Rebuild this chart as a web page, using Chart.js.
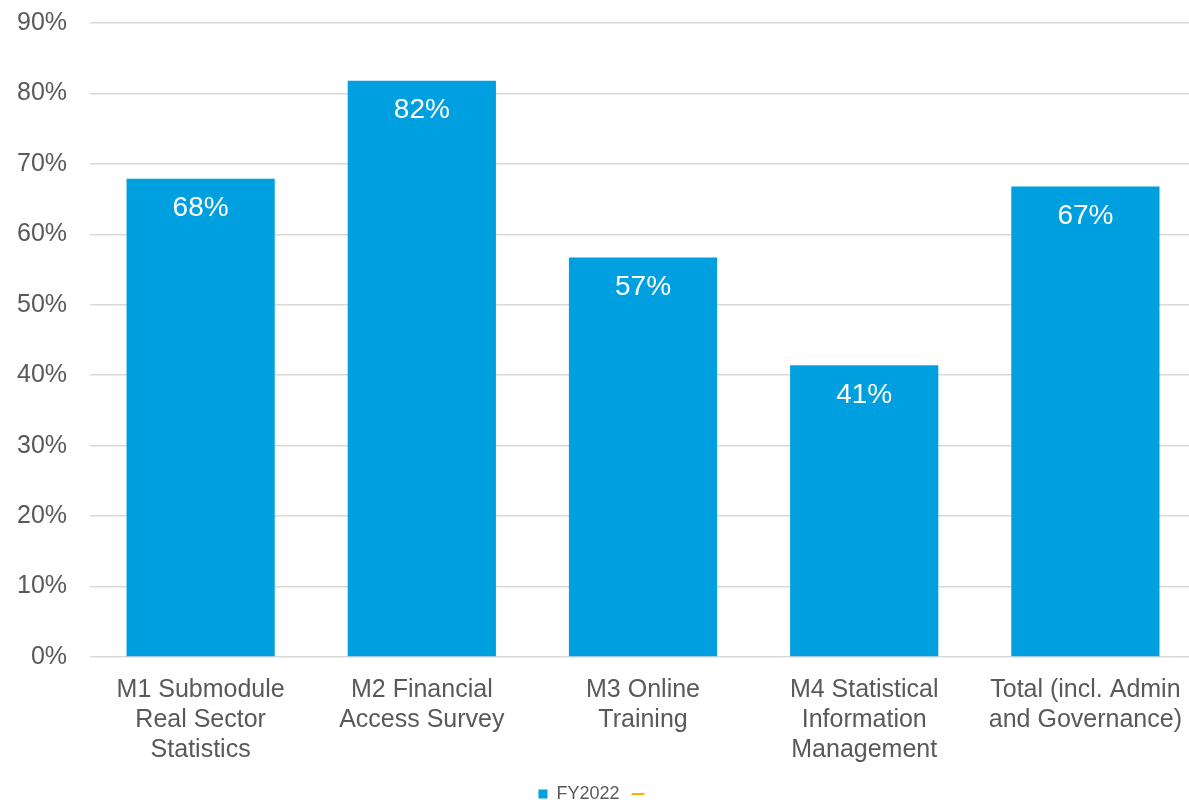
<!DOCTYPE html>
<html>
<head>
<meta charset="utf-8">
<script src="https://cdn.jsdelivr.net/npm/chart.js@4"></script>
<style>
html,body{margin:0;padding:0;background:#fff;overflow:hidden;width:1189px;height:802px;}
#wrap{width:1202px;height:828px;position:absolute;left:-6px;top:-15px;}
</style>
</head>
<body>
<div id="wrap"><canvas id="c"></canvas></div>
<script>
const categories = [
  ["M1 Submodule", "Real Sector", "Statistics"],
  ["M2 Financial", "Access Survey"],
  ["M3 Online", "Training"],
  ["M4 Statistical", "Information", "Management"],
  ["Total (incl. Admin", "and Governance)"]
];
const fy2022 = [67.9, 81.8, 56.7, 41.4, 66.8];
const fy2022Labels = ["68%", "82%", "57%", "41%", "67%"];
const yTicks = [0, 10, 20, 30, 40, 50, 60, 70, 80, 90];

const FONT = "'Liberation Sans', Arial, sans-serif";

const valueLabels = {
  id: 'valueLabels',
  afterDatasetsDraw(chart) {
    const ctx = chart.ctx;
    const meta = chart.getDatasetMeta(0);
    ctx.save();
    ctx.fillStyle = '#ffffff';
    ctx.font = "28px " + FONT;
    ctx.textAlign = 'center';
    ctx.textBaseline = 'middle';
    meta.data.forEach((bar, i) => {
      ctx.fillText(fy2022Labels[i], bar.x, bar.y + 30);
    });
    ctx.restore();
  }
};

new Chart(document.getElementById('c'), {
  type: 'bar',
  data: {
    labels: categories,
    datasets: [
      {
        label: 'FY2022',
        data: fy2022,
        backgroundColor: '#009FDF',
        borderWidth: 0,
        categoryPercentage: 1,
        barPercentage: 0.67,
        pointStyle: 'rect'
      },
      {
        type: 'line',
        label: '',
        data: [],
        borderColor: '#FFB000',
        backgroundColor: '#FFB000',
        borderWidth: 2,
        pointStyle: 'line'
      }
    ]
  },
  options: {
    responsive: true,
    maintainAspectRatio: false,
    animation: false,
    layout: { padding: { top: 7, right: 0, left: 0, bottom: 0 } },
    plugins: {
      legend: {
        position: 'bottom',
        labels: {
          usePointStyle: true,
          boxWidth: 9,
          boxHeight: 9,
          padding: 14,
          color: '#595959',
          font: { family: FONT, size: 18 },
          sort: (a, b) => a.datasetIndex - b.datasetIndex
        }
      },
      tooltip: { enabled: false }
    },
    scales: {
      x: {
        grid: { display: false },
        border: { display: false },
        afterFit(scale) { scale.height -= 4; },
        ticks: {
          color: '#595959',
          font: { family: FONT, size: 25, lineHeight: 1.2 },
          maxRotation: 0,
          autoSkip: false,
          padding: 10
        }
      },
      y: {
        min: 0,
        max: 90,
        afterBuildTicks(axis) { axis.ticks = yTicks.map(v => ({ value: v })); },
        grid: { color: '#D9D9D9', lineWidth: 1.5, drawTicks: false },
        border: { display: false },
        ticks: {
          color: '#595959',
          font: { family: FONT, size: 25, lineHeight: 1.2 },
          padding: 23,
          callback: v => v + '%'
        }
      }
    }
  },
  plugins: [valueLabels]
});
</script>
</body>
</html>
